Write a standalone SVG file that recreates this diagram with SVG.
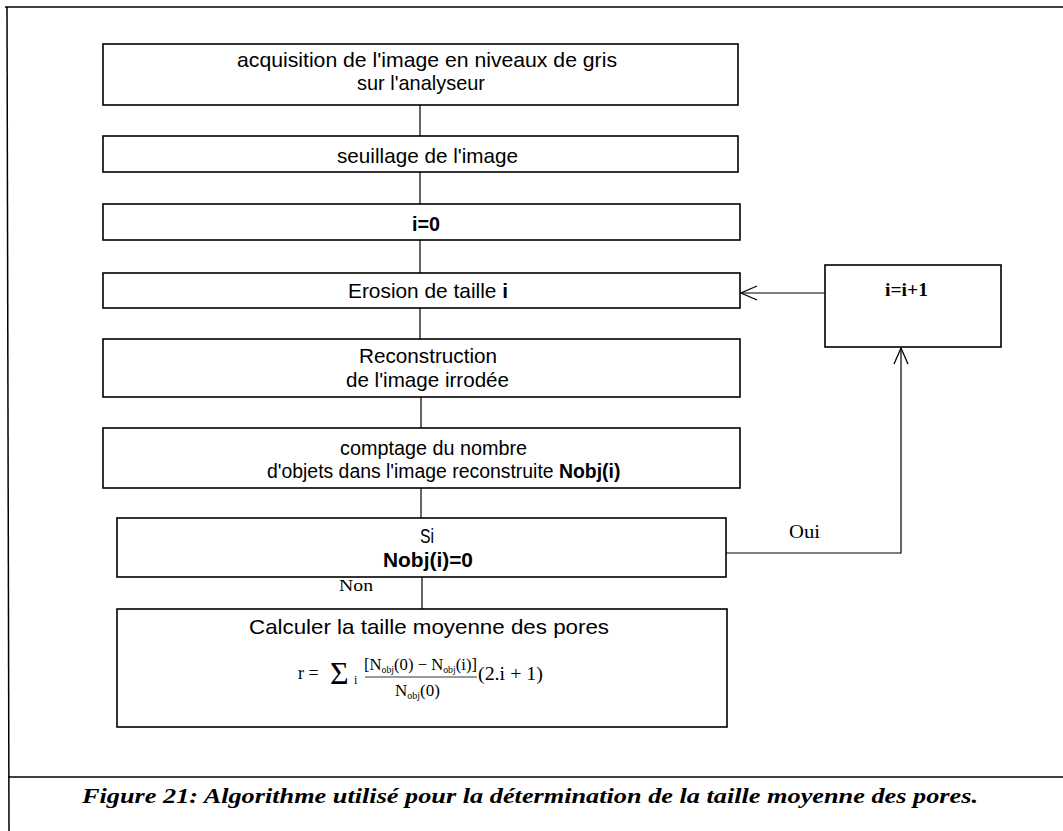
<svg xmlns="http://www.w3.org/2000/svg" width="1063" height="831" viewBox="0 0 1063 831">
<style>
.box{fill:#fff;stroke:#000;stroke-width:1.6}
.conn{fill:none;stroke:#000;stroke-width:1.2}
.frame{fill:none;stroke:#000;stroke-width:1.5}
.t{font-family:"Liberation Sans",Arial,sans-serif;font-size:21px;fill:#000}
.b{font-weight:bold}
.s{font-family:"Liberation Serif","Times New Roman",serif;fill:#000}
.cap{font-family:"Liberation Serif","Times New Roman",serif;font-size:22px;font-weight:bold;font-style:italic;fill:#000}
</style>
<defs>
<marker id="open" viewBox="-18 -9 20 18" markerUnits="userSpaceOnUse" markerWidth="20" markerHeight="18" refX="0" refY="0" orient="auto" overflow="visible">
<path d="M-16,-7 L0,0 L-16,7" fill="none" stroke="#000" stroke-width="1.3"/>
</marker>
</defs>
<rect width="1063" height="831" fill="#fff"/>
<g id="frame">
<line class="frame" x1="5" y1="7" x2="1063" y2="7"/>
<line class="frame" x1="7" y1="7" x2="9" y2="831"/>
<line class="frame" x1="8" y1="777" x2="1063" y2="777"/>
</g>
<g id="connectors">
<line class="conn" x1="420" y1="105" x2="420" y2="136"/>
<line class="conn" x1="420" y1="172" x2="420" y2="204"/>
<line class="conn" x1="420" y1="240" x2="420" y2="273"/>
<line class="conn" x1="420" y1="308" x2="420" y2="339"/>
<line class="conn" x1="421" y1="397" x2="421" y2="428"/>
<line class="conn" x1="421" y1="488" x2="421" y2="518"/>
<line class="conn" x1="422" y1="577" x2="422" y2="609"/>
<path class="conn" d="M825,293 H741" marker-end="url(#open)"/>
<path class="conn" d="M726,553 H901 V348" marker-end="url(#open)"/>
<text class="s" x="339" y="591" font-size="17" textLength="34" lengthAdjust="spacingAndGlyphs">Non</text>
<text class="s" x="789" y="538" font-size="19" textLength="31" lengthAdjust="spacingAndGlyphs">Oui</text>
</g>
<g id="n1">
<rect class="box" x="103" y="44" width="635" height="61"/>
<text class="t" x="237" y="67" textLength="380" lengthAdjust="spacingAndGlyphs">acquisition de  l'image en niveaux de gris</text>
<text class="t" x="357" y="90" textLength="128" lengthAdjust="spacingAndGlyphs">sur l'analyseur</text>
</g>
<g id="n2">
<rect class="box" x="103" y="136" width="635" height="36"/>
<text class="t" x="337" y="163" textLength="181" lengthAdjust="spacingAndGlyphs">seuillage de l'image</text>
</g>
<g id="n3">
<rect class="box" x="103" y="204" width="637" height="36"/>
<text class="t b" x="412" y="231" textLength="28" lengthAdjust="spacingAndGlyphs">i=0</text>
</g>
<g id="n4">
<rect class="box" x="103" y="273" width="637" height="35"/>
<text class="t" x="348" y="298" textLength="160" lengthAdjust="spacingAndGlyphs">Erosion de taille <tspan class="b">i</tspan></text>
</g>
<g id="n5">
<rect class="box" x="103" y="339" width="637" height="58"/>
<text class="t" x="359" y="363" textLength="138" lengthAdjust="spacingAndGlyphs">Reconstruction</text>
<text class="t" x="346" y="387" textLength="163" lengthAdjust="spacingAndGlyphs">de l'image irrodée</text>
</g>
<g id="n6">
<rect class="box" x="103" y="428" width="637" height="60"/>
<text class="t" x="340" y="455" textLength="187" lengthAdjust="spacingAndGlyphs">comptage du nombre</text>
<text class="t" x="267" y="478" style="font-size:19.4px">d'objets dans l'image reconstruite <tspan class="b">Nobj(i)</tspan></text>
</g>
<g id="n7">
<rect class="box" x="117" y="518" width="609" height="59"/>
<text class="t" x="420" y="543" textLength="14" lengthAdjust="spacingAndGlyphs">Si</text>
<text class="t b" x="383" y="567" textLength="90" lengthAdjust="spacingAndGlyphs">Nobj(i)=0</text>
</g>
<g id="n8">
<rect class="box" x="117" y="609" width="610" height="118"/>
<text class="t" x="249" y="634" textLength="360" lengthAdjust="spacingAndGlyphs">Calculer  la  taille moyenne  des  pores</text>
<text class="s" x="298" y="679" font-size="18">r =</text>
<text class="s" x="330" y="684" font-size="32">Σ</text>
<text class="s" x="354" y="684" font-size="12">i</text>
<text class="s" x="364" y="670" font-size="17" textLength="113" lengthAdjust="spacingAndGlyphs">[N<tspan font-size="10" dy="3">obj</tspan><tspan dy="-3">(0) − N</tspan><tspan font-size="10" dy="3">obj</tspan><tspan dy="-3">(i)]</tspan></text>
<line x1="365" y1="677" x2="477" y2="677" stroke="#000" stroke-width="0.8"/>
<text class="s" x="395" y="696" font-size="17">N<tspan font-size="10" dy="3">obj</tspan><tspan dy="-3">(0)</tspan></text>
<text class="s" x="478" y="680" font-size="19" textLength="65" lengthAdjust="spacingAndGlyphs">(2.i + 1)</text>
</g>
<g id="n9">
<rect class="box" x="825" y="265" width="176" height="82"/>
<text class="s b" x="885" y="296" font-size="19" textLength="43" lengthAdjust="spacingAndGlyphs">i=i+1</text>
</g>
<g id="caption">
<text class="cap" x="82" y="803" textLength="896" lengthAdjust="spacingAndGlyphs">Figure 21: Algorithme utilisé pour la détermination de la taille moyenne des pores.</text>
</g>
</svg>
